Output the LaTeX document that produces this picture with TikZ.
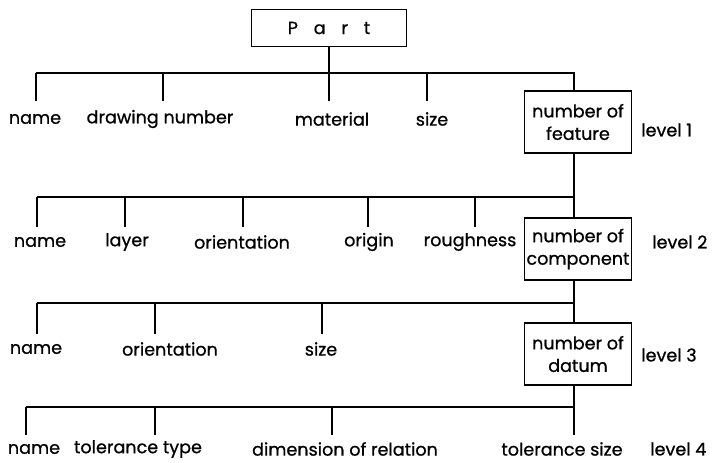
\documentclass[tikz,border=0pt]{standalone}
\usepackage{fontspec}
\setmainfont{Poppins}[FakeBold=0.8]
\usetikzlibrary{math}

\tikzset{
    tree/.style={black, line width=1.3pt},
    leaf/.style={inner sep=0pt, font=\fontsize{12.5}{14}\selectfont},
    topbox/.style={draw, line width=1.1pt, minimum width=3.875cm, minimum height=0.925cm,
        font=\fontsize{12.5}{14}\selectfont},
    countbox/.style={draw, line width=1.1pt, minimum width=2.675cm, minimum height=1.55cm,
        align=center, inner sep=1pt, font=\fontsize{12.5}{16}\selectfont},
    levelname/.style={anchor=west, inner sep=0pt, font=\fontsize{12.5}{14}\selectfont},
}

\begin{document}
\begin{tikzpicture}[x=0.025cm, y=-0.025cm]

% Page frame
\useasboundingbox (0,0) rectangle (718,462);

% Row settings: bar heights and lower ends of the drops
\tikzmath{
    \BarA = 73;  \EndA = 101;
    \BarB = 197; \EndB = 227;
    \BarC = 303; \EndC = 334;
    \BarD = 407; \EndD = 435;
}
\coordinate (endA) at (0,\EndA);
\coordinate (endB) at (0,\EndB);
\coordinate (endC) at (0,\EndC);
\coordinate (endD) at (0,\EndD);

% Root
\node [topbox] (part) at (329,28) {P\hspace{0.9em}a\hspace{0.9em}r\hspace{0.9em}t};

% Level 1
\node [countbox] (feature) at (578,122) {number of\\feature};
\foreach \x/\t [count=\i] in {35/name, 160/drawing number, 332/material, 432/size}
    \node [leaf] (la\i) at (\x,119) {\t};
\foreach \x [count=\i] in {36,163,329,427,574}
    \coordinate (a\i) at (\x,\BarA);
\draw [tree] (part.south) -- (a3);
\draw [tree] (a1) -- (a5) -- (a5 |- feature.north);
\foreach \i in {1,...,4}
    \draw [tree] (a\i) -- (a\i |- endA);
\node [levelname] (lev1) at (641,130) {level 1};

% Level 2
\node [countbox] (component) at (578,249) {number of\\component};
\foreach \x/\t [count=\i] in {40/name, 127/layer, 242/orientation, 369/origin, 470/roughness}
    \node [leaf] (lb\i) at (\x,242) {\t};
\foreach \x [count=\i] in {37,125,243,368,475,574}
    \coordinate (b\i) at (\x,\BarB);
\draw [tree] (feature.south -| a5) -- (b6);
\draw [tree] (b1) -- (b6) -- (b6 |- component.north);
\foreach \i in {1,...,5}
    \draw [tree] (b\i) -- (b\i |- endB);
\node [levelname] (lev2) at (652,242) {level 2};

% Level 3
\node [countbox] (datum) at (578,354) {number of\\datum};
\foreach \x/\t [count=\i] in {36/name, 170/orientation, 321/size}
    \node [leaf] (lc\i) at (\x,349) {\t};
\foreach \x [count=\i] in {37,155,322,574}
    \coordinate (c\i) at (\x,\BarC);
\draw [tree] (component.south -| b6) -- (c4);
\draw [tree] (c1) -- (c4) -- (c4 |- datum.north);
\foreach \i in {1,...,3}
    \draw [tree] (c\i) -- (c\i |- endC);
\node [levelname] (lev3) at (641,355) {level 3};

% Level 4
\foreach \x/\t [count=\i] in {34/name, 138/tolerance type, 345/dimension of relation, 562/tolerance size}
    \node [leaf] (ld\i) at (\x,449) {\t};
\foreach \x [count=\i] in {26,155,332,574}
    \coordinate (d\i) at (\x,\BarD);
\draw [tree] (datum.south -| c4) -- (d4);
\draw [tree] (d1) -- (d4);
\foreach \i in {1,...,4}
    \draw [tree] (d\i) -- (d\i |- endD);
\node [levelname] (lev4) at (650,449) {level 4};

\end{tikzpicture}
\end{document}
